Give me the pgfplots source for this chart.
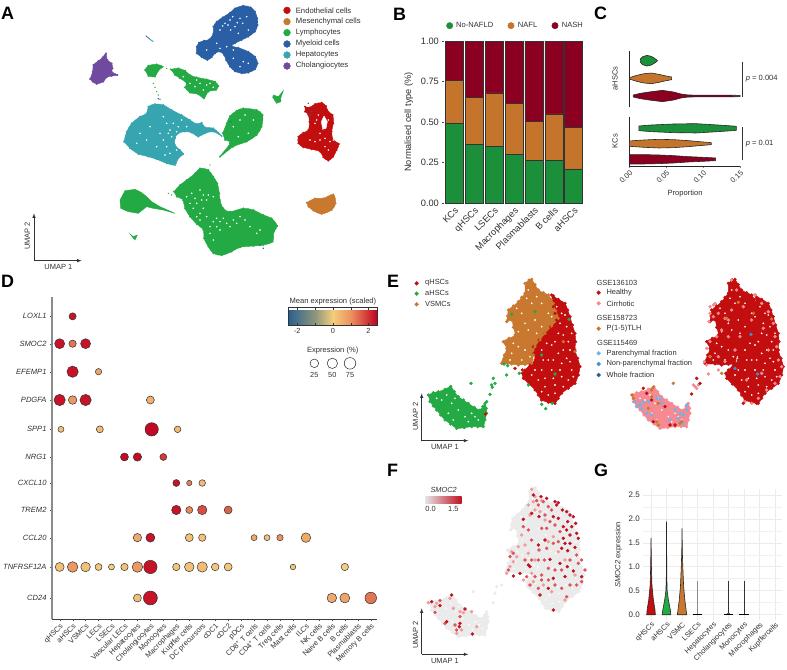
\documentclass[border=0pt]{standalone}
\usepackage{fontspec}
\setmainfont{Liberation Sans}
\usepackage{pgfplots}
\usepackage{pgfplotstable}
\pgfplotsset{compat=1.18}
\newcommand{\fs}[1]{\fontsize{#1}{#1}\selectfont}
\definecolor{txt}{HTML}{303030}
\definecolor{cend}{HTML}{C20E0E}
\definecolor{cmes}{HTML}{C8782F}
\definecolor{clym}{HTML}{24AA45}
\definecolor{cmye}{HTML}{2A5FA5}
\definecolor{chep}{HTML}{36A5B0}
\definecolor{ccho}{HTML}{6F4A9E}
\definecolor{bgreen}{HTML}{1B8F3A}
\definecolor{borange}{HTML}{C5752B}
\definecolor{bred}{HTML}{8B0020}
\definecolor{cpink}{HTML}{F58A92}
\definecolor{clblue}{HTML}{6DB3EE}
\definecolor{cmblue}{HTML}{3F8FD6}
\definecolor{cdblue}{HTML}{1F5F99}
\definecolor{f1}{HTML}{F29A94}
\definecolor{f2}{HTML}{E0505A}
\definecolor{f3}{HTML}{C01020}
\tikzset{umaparrow/.style={draw=black!80, line width=0.6pt, -latex}}
\pgfplotsset{
  zoomaxis/.style n args={4}{
    at={({#1*1bp},{(670-#2)*1bp})}, anchor=north west, scale only axis,
    width=#3 bp, height=#4 bp, xmin=0, xmax=#3*3, ymin=0, ymax=#4*3,
    y dir=reverse, hide axis, clip=false},
  blob/.style={fill=#1, draw=#1, smooth, tension=0.55, mark=*, mark size=0.7, mark options={fill=#1, draw=#1}},
  bblob/.style={fill=#1, draw=#1, smooth, tension=0.5, mark=*, mark size=1.4, mark options={fill=#1, draw=#1}},
  dots/.style={only marks, mark=*, mark size=1.5, mark options={fill=#1, draw=#1}},
  holes/.style={only marks, mark=*, mark size=#1, mark options={fill=white, draw=white, line width=0.1pt}},
  vio/.style={fill=#1, draw=black!85, line width=0.6pt},
  colormap={expr}{
    rgb255(0)=(43,95,142) rgb255(1.5)=(140,150,125) rgb255(2.5)=(244,205,125)
    rgb255(3.5)=(236,145,95) rgb255(5)=(192,0,32)}
}
% D: category index, row position, radius in px, scaled expression
\pgfplotstableread{
x y r v
1 909 3.6 2.3
0 827 5.0 2.3
1 827 3.7 1.3
2 827 5.0 2.3
1 743 5.7 2.3
3 743 3.2 0.7
0 658 5.7 2.3
1 658 4.3 0.9
2 658 5.7 2.3
7 658 4.0 0.5
0.1 570 3.0 0.2
3.1 570 3.5 0.3
7.1 570 6.7 2.4
9.1 570 3.3 0.3
5 487 4.0 2.4
6 487 4.2 2.4
8 487 3.5 1.9
9 409 3.5 2.3
10 409 2.7 1.2
11 409 3.3 0.3
9 328 4.7 2.3
10 328 3.5 1.1
11 328 4.7 1.7
13 328 4.0 1.5
6 245 4.2 0.6
7 245 4.5 2.3
10 245 4.0 0.2
11 245 3.7 0.15
15 245 3.0 0.6
16 245 3.0 0.2
17 245 3.2 1.0
19 245 4.8 0.6
0 157 4.5 0.2
1 157 5.3 0.9
2 157 4.8 0.2
3 157 3.5 0.1
4 157 3.0 0.0
5 157 3.7 0.2
6 157 5.3 0.9
7 157 6.7 2.3
9 157 3.7 0.1
10 157 4.8 0.2
11 157 5.2 0.3
12 157 3.8 0.1
13 157 4.0 0.1
18 157 2.8 0.1
22 157 3.7 0.0
6 64 4.0 0.2
7 64 7.0 2.3
21 64 4.8 0.6
22 64 5.0 0.7
24 64 5.8 1.3
}\bubbles
% E/F outlines, in crop pixels
\pgfplotstableread{
x y
500 75
520 88
540 100
548 120
555 140
562 165
570 190
572 215
570 240
578 265
585 290
580 315
570 340
550 355
530 370
520 385
510 400
490 397
470 390
460 375
450 360
432 342
415 325
412 310
420 300
435 285
450 270
447 250
445 230
462 210
480 190
497 170
515 150
510 130
505 110
}\polyred
\pgfplotstableread{
x y
420 40
432 30
440 28
450 44
460 60
475 68
490 75
498 88
505 100
512 122
520 145
500 168
480 190
465 210
450 230
445 255
440 280
420 283
400 285
380 282
350 280
358 255
365 235
355 215
372 205
390 195
385 172
380 150
365 155
368 138
370 120
385 108
400 95
410 82
420 70
}\polyorange
\pgfplotstableread{
x y
130 375
145 368
160 365
180 358
197 350
208 365
220 380
235 390
250 400
268 412
285 420
293 410
300 400
304 415
305 430
300 450
295 470
278 470
260 470
238 473
215 475
197 462
180 450
167 435
155 420
145 408
135 395
}\polygreen
\pgfplotstableread{
x y
530 130
545 170
520 190
550 215
500 225
470 240
520 250
490 270
545 265
560 300
470 300
500 300
440 315
530 320
510 345
480 350
550 330
490 375
460 330
530 280
515 110
540 135
525 160
560 190
535 195
510 215
485 220
555 240
535 240
505 270
475 270
555 275
525 300
480 325
505 325
565 320
450 300
535 350
510 370
470 365
430 60
440 100
470 100
410 130
450 150
490 130
430 180
470 170
400 230
380 250
420 240
410 270
385 220
500 140
425 85
455 80
395 115
420 160
455 190
400 185
375 270
435 260
170 390
200 400
220 420
240 440
190 430
260 430
280 450
250 455
210 385
155 385
185 375
205 450
270 440
}\speck
\pgfplotstableread{
x y
440 88
450 110
470 122
445 125
430 135
435 165
450 150
465 155
480 180
410 225
420 255
400 260
395 290
385 305
375 320
365 340
380 275
430 280
450 300
505 230
490 245
520 275
540 300
570 345
440 340
415 360
445 365
475 375
500 395
540 420
205 445
225 455
235 458
155 430
130 428
230 510
215 520
275 500
260 455
195 415
150 440
}\flight
\pgfplotstableread{
x y
475 125
455 122
460 135
490 140
500 150
480 165
495 185
510 195
525 215
485 205
470 205
430 210
415 200
440 240
462 270
485 265
505 250
520 245
575 285
590 300
600 330
580 310
555 300
530 330
510 330
490 325
470 345
450 350
425 350
420 300
440 300
460 300
478 300
470 360
490 360
510 375
530 385
555 375
575 375
590 365
460 385
435 375
545 410
375 290
385 280
370 330
215 510
180 490
150 457
165 422
225 470
210 495
}\fmid
\pgfplotstableread{
x y
510 125
520 128
515 135
532 150
545 155
555 165
565 170
505 170
520 175
548 185
572 190
560 200
535 200
545 210
575 220
580 235
555 225
535 235
540 250
555 250
530 265
548 272
570 262
460 255
480 240
462 170
440 160
415 178
468 110
485 115
445 105
495 298
525 310
547 320
565 333
590 350
540 350
505 355
490 385
465 405
385 348
405 340
505 450
430 315
435 320
200 405
140 425
165 437
185 485
225 490
240 447
223 500
262 522
}\fdark
\begin{document}
\begin{tikzpicture}
\path[use as bounding box] (0,0) rectangle (787bp,670bp);
\tikzset{every node/.append style={text=txt}}

% A
\begin{axis}[zoomaxis={0}{0}{390}{270}]
\addplot[blob=cmye] coordinates {(590,140)(597,128)(612,122)(628,118)(640,100)(640,80)(650,65)(668,52)(690,38)(705,25)(730,17)(752,22)(765,35)(772,55)(773,75)(765,95)(745,110)(725,120)(705,130)(695,138)(715,143)(745,155)(765,170)(773,190)(765,208)(745,218)(725,220)(705,214)(690,200)(678,180)(672,165)(660,155)(645,160)(635,172)(622,180)(605,172)(590,160)} -- cycle;
\addplot[blob=ccho] coordinates {(270,237)(278,215)(280,195)(295,183)(308,172)(318,160)(322,180)(335,190)(338,205)(335,215)(352,225)(335,228)(320,232)(310,245)(290,252)(278,245)} -- cycle;
\addplot[blob=clym] coordinates {(435,210)(445,197)(470,193)(488,200)(475,212)(465,230)(445,228)} -- cycle;
\addplot[blob=clym] coordinates {(512,208)(535,205)(555,212)(570,225)(590,232)(620,238)(645,245)(655,258)(648,270)(625,275)(612,295)(595,283)(570,278)(555,262)(560,250)(540,235)(525,225)} -- cycle;
\addplot[fill=clym, draw=clym] coordinates {(820,285)(835,290)(850,272)(842,295)(843,305)(830,310)(818,292)} -- cycle;
\addplot[blob=cend] coordinates {(915,320)(930,322)(945,312)(965,308)(978,318)(985,335)(998,345)(1000,370)(995,395)(1000,420)(1017,432)(1010,450)(1000,470)(985,482)(970,472)(960,455)(935,448)(910,442)(895,430)(895,410)(910,398)(925,390)(928,365)(925,345)(915,335)} -- cycle;
\addplot[blob=cmes] coordinates {(920,608)(945,595)(970,595)(1000,583)(1007,610)(995,630)(965,642)(940,632)(925,620)} -- cycle;
\addplot[blob=chep] coordinates {(372,425)(380,395)(395,370)(420,350)(440,340)(445,320)(465,312)(490,315)(515,330)(545,345)(570,360)(590,372)(605,368)(615,382)(640,385)(665,408)(640,395)(615,400)(595,410)(575,398)(555,395)(535,400)(525,415)(525,435)(540,450)(550,462)(535,475)(525,495)(500,490)(470,478)(445,470)(415,462)(390,445)} -- cycle;
\addplot[blob=clym] coordinates {(668,400)(680,370)(690,348)(710,332)(730,325)(770,330)(788,345)(785,380)(770,405)(740,425)(700,440)(660,470)(690,430)(675,420)} -- cycle;
\addplot[blob=clym] coordinates {(522,575)(540,555)(560,540)(585,520)(600,505)(625,510)(640,530)(652,550)(658,580)(660,600)(670,625)(690,635)(730,625)(760,630)(790,645)(815,655)(832,678)(822,695)(818,725)(790,735)(760,738)(720,742)(695,755)(665,766)(640,760)(625,740)(612,715)(610,690)(590,672)(570,650)(555,625)(548,600)(530,590)} -- cycle;
\addplot[fill=clym, draw=clym] coordinates {(360,600)(375,572)(405,568)(425,578)(440,590)(455,605)(480,620)(525,640)(490,630)(460,625)(440,620)(415,640)(385,635)(362,625)} -- cycle;
\addplot[fill=clym, draw=clym] coordinates {(390,702)(400,710)(412,705)(405,720)(398,712)} -- cycle;
\addplot[cmye, line width=0.7pt] coordinates {(437,107)(450,118)};
\addplot[chep, line width=0.9pt] coordinates {(450,118)(460,125)};
\addplot[only marks, mark=*, mark size=0.4, mark options={fill=clym, draw=clym}] coordinates {(460,250)(465,262)(470,275)(475,285)(480,298)(488,200)(500,205)(505,580)(515,585)(630,495)};
\addplot[only marks, mark=*, mark size=0.5, mark options={fill=cmye, draw=cmye}] coordinates {(475,296)(780,735)(790,745)(925,310)(935,335)(930,345)(692,365)};
\addplot[fill=white, draw=white] coordinates {(972,348)(982,365)(978,385)(968,388)(964,365)} -- cycle;
\addplot[holes=0.7] coordinates {(675,70)(690,60)(705,80)(720,55)(660,90)(740,50)(680,140)(700,175)(730,185)(650,130)(620,150)(715,100)(745,90)(684,75)(698,50)(712,68)(668,78)(728,70)(692,90)(660,145)(700,150)(720,200)(745,190)
 (985,360)(990,425)(975,440)(960,400)(945,370)(1000,420)(930,420)(955,345)(950,360)(975,415)(945,425)(985,450)(960,420)
 (610,585)(620,600)(640,590)(600,640)(620,650)(640,665)(660,665)(680,670)(700,660)(720,650)(590,610)(570,610)(560,590)(650,680)(750,680)(780,690)(630,700)(600,570)
 (585,595)(605,600)(625,585)(580,625)(610,625)(590,650)(650,655)(670,655)(690,680)(710,670)(660,690)(735,660)(600,660)(630,680)(575,580)(545,600)(770,700)(640,720)
 (590,240)(600,250)(620,255)(570,250)(610,270)(630,250)(550,230)(585,260)(640,262)
 (520,370)(535,380)(510,390)(545,360)(560,380)(500,440)(510,460)(480,400)(450,380)(420,400)(530,450)(490,350)(500,370)(515,410)(490,420)(470,440)(505,400)(530,395)(440,420)(410,430)(495,465)
 (720,360)(745,400)(700,380)(735,345)(760,360)(715,410)};
\addplot[only marks, mark=*, mark size=3.4, mark options={fill=cend, draw=cend}] coordinates {(861,31)};
\addplot[only marks, mark=*, mark size=3.4, mark options={fill=cmes, draw=cmes}] coordinates {(861,65)};
\addplot[only marks, mark=*, mark size=3.4, mark options={fill=clym, draw=clym}] coordinates {(861,98)};
\addplot[only marks, mark=*, mark size=3.4, mark options={fill=cmye, draw=cmye}] coordinates {(861,132)};
\addplot[only marks, mark=*, mark size=3.4, mark options={fill=chep, draw=chep}] coordinates {(861,165)};
\addplot[only marks, mark=*, mark size=3.4, mark options={fill=ccho, draw=ccho}] coordinates {(861,198)};
\tikzset{lt/.style={anchor=west, inner sep=0, font=\fs{7.7}}}
\node[lt] at (axis cs:887,31) {Endothelial cells};
\node[lt] at (axis cs:887,65) {Mesenchymal cells};
\node[lt] at (axis cs:887,98) {Lymphocytes};
\node[lt] at (axis cs:887,132) {Myeloid cells};
\node[lt] at (axis cs:887,165) {Hepatocytes};
\node[lt] at (axis cs:887,198) {Cholangiocytes};
\draw[umaparrow] (axis cs:102,782) -- (axis cs:102,640);
\draw[umaparrow] (axis cs:102,782) -- (axis cs:245,782);
\node[font=\fs{7.5}] at (axis cs:175,800) {UMAP 1};
\node[font=\fs{7.5}, rotate=90] at (axis cs:82,708) {UMAP 2};
\end{axis}

% B
\begin{axis}[
  at={(444.4bp,{(670-41)*1bp})}, anchor=north west, scale only axis,
  width=139.3bp, height=162bp, ybar stacked, bar width=18bp,
  xmin=-0.5, xmax=6.5, ymin=0, ymax=1, clip=false,
  xtick={0,...,6}, xticklabels={KCs,qHSCs,LSECs,Macrophages,Plasmablasts,B cells,aHSCs},
  ytick={0,0.25,0.5,0.75,1},
  yticklabel style={/pgf/number format/.cd, fixed, fixed zerofill, precision=2, assume math mode=true},
  tick label style={font=\fs{9.3}, text=txt}, tick align=outside, ytick pos=left,
  xticklabel style={rotate=45, anchor=north east, inner sep=1pt},
  major tick length=2pt, xtick style={draw=none}, ytick style={draw=black!70},
  axis line style={draw=none},
  ylabel={Normalised cell type (\%)}, ylabel style={font=\fs{9.2}, text=txt, yshift=1pt},
]
\addplot[fill=bgreen, draw=black!80, line width=0.6pt] coordinates {(0,.49)(1,.36)(2,.35)(3,.30)(4,.265)(5,.265)(6,.21)};
\addplot[fill=borange, draw=black!80, line width=0.6pt] coordinates {(0,.265)(1,.29)(2,.33)(3,.315)(4,.24)(5,.285)(6,.255)};
\addplot[fill=bred, draw=black!80, line width=0.6pt] coordinates {(0,.245)(1,.35)(2,.32)(3,.385)(4,.495)(5,.45)(6,.535)};
\end{axis}
\begin{axis}[zoomaxis={385}{0}{402}{270}]
\addplot[only marks, mark=*, mark size=3.2, mark options={fill=bgreen, draw=bgreen}] coordinates {(194,77)};
\addplot[only marks, mark=*, mark size=3.2, mark options={fill=borange, draw=borange}] coordinates {(378,77)};
\addplot[only marks, mark=*, mark size=3.2, mark options={fill=bred, draw=bred}] coordinates {(510,77)};
\node[anchor=west, inner sep=0, font=\fs{7.6}] at (axis cs:213,76) {No-NAFLD};
\node[anchor=west, inner sep=0, font=\fs{7.6}] at (axis cs:398,76) {NAFL};
\node[anchor=west, inner sep=0, font=\fs{7.6}] at (axis cs:530,76) {NASH};
\addplot[black!80, line width=0.6pt] coordinates {(1073,185)(1073,290)};
\addplot[black!80, line width=0.6pt] coordinates {(1073,382)(1073,480)};
\node[anchor=west, inner sep=0, font=\fs{7.6}] at (axis cs:1082,236) {\textit{p} = 0.004};
\node[anchor=west, inner sep=0, font=\fs{7.6}] at (axis cs:1082,430) {\textit{p} = 0.01};
\node[font=\fs{7.6}, rotate=90] at (axis cs:690,235) {aHSCs};
\node[font=\fs{7.6}, rotate=90] at (axis cs:690,424) {KCs};
\node[font=\fs{7.6}] at (axis cs:900,582) {Proportion};
\end{axis}

% C
\begin{axis}[
  at={(629.3bp,{(670-50.7)*1bp})}, anchor=north west, scale only axis,
  width=110.7bp, height=115.6bp, xmin=0, xmax=0.15, ymin=0, ymax=347, clip=false,
  axis x line=bottom, axis y line=none, x axis line style={-, draw=black!85},
  xtick={0,0.05,0.1,0.15},
  xticklabel style={/pgf/number format/.cd, fixed, fixed zerofill, precision=2, assume math mode=true},
  tick label style={font=\fs{7.5}, text=txt, rotate=45, anchor=north east, inner sep=1pt},
  major tick length=2pt, tick align=outside,
]
\addplot[black!85, line width=0.6pt] coordinates {(0,179)(0,347)};
\addplot[black!85, line width=0.6pt] coordinates {(0,0)(0,149)};
\addplot[vio=bgreen] coordinates {(.015,322)(.018,329)(.024,333)(.03,330)(.035,323)(.038,318)(.038,316)(.035,311)(.03,304)(.024,301)(.018,305)(.015,312)} -- cycle;
\addplot[vio=borange] coordinates {(0,266)(.01,273)(.02,278)(.03,280)(.04,276)(.05,271)(.0574,268)(.0574,260)(.05,257)(.04,252)(.03,248)(.02,250)(.01,255)(0,262)} -- cycle;
\addplot[vio=bred] coordinates {(.0054,214)(.015,219)(.03,224)(.045,228)(.06,223)(.07,217)(.08,214)(.1,213.5)(.13,213.5)(.15,213)(.15,209)(.13,208.5)(.1,208.5)(.08,208)(.07,205)(.06,199)(.045,194)(.03,198)(.015,203)(.0054,208)} -- cycle;
\addplot[vio=bgreen] coordinates {(.013,121)(.03,124)(.06,127)(.09,128)(.12,124)(.14,121)(.145,120)(.145,108)(.14,107)(.12,104)(.09,100)(.06,101)(.03,104)(.013,107)} -- cycle;
\addplot[vio=borange] coordinates {(0,76)(.02,79)(.04,81)(.06,80)(.08,77)(.1,73)(.111,71)(.111,65)(.1,63)(.08,59)(.06,56)(.04,55)(.02,57)(0,60)} -- cycle;
\addplot[vio=bred] coordinates {(0,35)(.02,35)(.04,34)(.06,32)(.08,29)(.1,27)(.117,25)(.117,17)(.1,15)(.08,13)(.06,10)(.04,8)(.02,7)(0,7)} -- cycle;
\end{axis}

% D
\begin{axis}[
  at={(52bp,{(670-296.7)*1bp})}, anchor=north west, scale only axis,
  width=324.7bp, height=322.6bp, xmin=-0.59, xmax=24.46, ymin=0, ymax=968, clip=false,
  axis lines=left, axis line style={-}, 
  x axis line style={draw=black!75, line width=0.5pt},
  y axis line style={draw=black!45, line width=1.1pt},
  xtick={0,...,24},
  xticklabels={qHSCs,aHSCs,VSMCs,LECs,LSECs,Vascular LECs,Hepatocytes,Cholangiocytes,Monocytes,Macrophages,Kupffer cells,DC precursors,cDC1,cDC2,pDCs,CD8\textsuperscript{+} T cells,CD4\textsuperscript{+} T cells,Treg cells,Mast cells,ILCs,NK cells,Naive B cells,B cells,Plasmablasts,Memory B cells},
  ytick={909,827,743,658,570,487,409,328,245,157,64},
  yticklabels={LOXL1,SMOC2,EFEMP1,PDGFA,SPP1,NRG1,CXCL10,TREM2,CCL20,TNFRSF12A,CD24},
  yticklabel style={font=\fs{7.6}\itshape, text=txt},
  xticklabel style={font=\fs{7.4}, text=txt, rotate=45, anchor=north east, inner sep=1pt},
  major tick length=2pt, tick align=outside, tick style={draw=black!70},
  colormap name=expr, point meta min=-2.5, point meta max=2.5,
  colorbar horizontal,
  colorbar style={
    at={(0.728,0.967)}, anchor=north west, width=89bp, height=17.7bp,
    xtick={-2,-1,0,1,2}, xticklabels={-2,,0,,2},
    xticklabel pos=bottom, tick align=inside, major tick length=2.5pt,
    tick style={draw=black!80}, axis line style={draw=black!80},
    tick label style={font=\fs{7.4}, text=txt},
    title={Mean expression (scaled)},
    title style={font=\fs{7.6}, text=txt, yshift=-7pt},
    /pgf/number format/assume math mode=true,
  },
]
\addplot[scatter, only marks, mark=*, point meta=explicit,
  visualization depends on={\thisrow{r} \as \perpointmarksize},
  scatter/use mapped color={draw=black!80, fill=mapped color},
  scatter/@pre marker code/.append style={/tikz/mark size=\perpointmarksize},
  line width=0.5pt]
  table[x=x, y=y, meta=v] {\bubbles};
\end{axis}
\begin{axis}[zoomaxis={0}{270}{390}{400}]
\addplot[only marks, mark=*, mark size=4.3, mark options={fill=white, draw=black!85, line width=0.5pt}] coordinates {(943,280)};
\addplot[only marks, mark=*, mark size=5.2, mark options={fill=white, draw=black!85, line width=0.5pt}] coordinates {(997,280)};
\addplot[only marks, mark=*, mark size=5.8, mark options={fill=white, draw=black!85, line width=0.5pt}] coordinates {(1050,280)};
\node[font=\fs{7.6}] at (axis cs:998,241) {Expression (\%)};
\node[font=\fs{7.4}] at (axis cs:943,315) {25};
\node[font=\fs{7.4}] at (axis cs:997,315) {50};
\node[font=\fs{7.4}] at (axis cs:1050,315) {75};
\end{axis}

% E
\begin{axis}[zoomaxis={385}{270}{402}{200}]
\addplot[bblob=cend] table {\polyred} -- cycle;
\addplot[bblob=cmes] table {\polyorange} -- cycle;
\addplot[bblob=clym] table {\polygreen} -- cycle;
\addplot[holes=0.8] table {\speck};
\addplot[dots=cend] coordinates {(505,78)(450,340)(412,300)(302,432)(390,295)};
\addplot[dots=cmes] coordinates {(352,280)(570,245)(535,215)};
\addplot[dots=clym] coordinates {(380,133)(450,125)(552,148)(470,255)(510,312)(357,282)(368,287)(365,315)(403,310)(430,345)(470,403)(502,400)(482,416)(258,340)(325,325)(330,340)(320,345)(315,373)(305,395)(322,352)(197,350)};

\addplot[bblob=cend] table[x expr=\thisrow{x}+610] {\polyred} -- cycle;
\addplot[bblob=cend] table[x expr=\thisrow{x}+610] {\polyorange} -- cycle;
\addplot[bblob=cpink] table[x expr=\thisrow{x}+610] {\polygreen} -- cycle;
\addplot[holes=0.8] table[x expr=\thisrow{x}+610] {\speck};
\addplot[dots=cpink] coordinates {(975,110)(985,105)(990,100)(975,130)(972,155)(985,140)(1000,130)(1020,145)(1030,150)(1040,120)(1065,200)(1010,180)(995,200)(975,215)(965,235)(958,275)(965,285)(975,260)(1000,260)(1020,275)(1000,300)(970,312)(1180,270)(1190,290)(1185,320)(1170,340)(1145,360)(1120,385)(1100,400)(1080,395)(1175,230)(1170,200)(1165,160)(1150,125)(1130,100)(1110,75)(1075,110)(1100,150)(1135,175)(1150,240)(1050,240)(1085,330)(1130,310)(925,345)(930,350)(940,345)(935,355)(1040,30)(1055,60)(1030,200)};
\addplot[dots=cend] coordinates {(775,355)(785,370)(800,390)(840,410)(855,465)(870,465)(805,455)(920,372)(935,325)(945,340)(1115,400)(1075,400)};
\addplot[dots=clblue] coordinates {(750,395)(755,410)(770,415)(785,430)(800,435)(815,385)(825,385)(830,400)(905,405)(905,420)(895,435)(885,430)(880,445)(895,460)(870,420)(855,450)(775,395)(790,395)(765,405)};
\addplot[dots=cmes] coordinates {(745,385)(742,375)(805,352)(800,360)(790,415)(800,380)(820,400)(865,340)(890,455)(885,460)(820,465)(815,455)(1060,97)(1105,130)(1160,147)(1025,145)(975,260)(1010,310)};
\addplot[dots=cmblue] coordinates {(1098,193)(1050,295)(1118,312)};
\addplot[only marks, mark=*, mark size=1.9, mark options={fill=cend, draw=cend}] coordinates {(95,40)(641,68)};
\addplot[only marks, mark=*, mark size=1.9, mark options={fill=clym, draw=clym}] coordinates {(95,71)};
\addplot[only marks, mark=*, mark size=1.9, mark options={fill=cmes, draw=cmes}] coordinates {(95,103)(641,176)};
\addplot[only marks, mark=*, mark size=1.9, mark options={fill=cpink, draw=cpink}] coordinates {(641,100)};
\addplot[only marks, mark=*, mark size=1.9, mark options={fill=clblue, draw=clblue}] coordinates {(641,250)};
\addplot[only marks, mark=*, mark size=1.9, mark options={fill=cmblue, draw=cmblue}] coordinates {(641,282)};
\addplot[only marks, mark=*, mark size=1.9, mark options={fill=cdblue, draw=cdblue}] coordinates {(641,315)};
\tikzset{lt/.style={anchor=west, inner sep=0, font=\fs{7.5}}}
\node[lt] at (axis cs:120,38) {qHSCs};
\node[lt] at (axis cs:120,70) {aHSCs};
\node[lt] at (axis cs:120,103) {VSMCs};
\node[lt] at (axis cs:634,38) {GSE136103};
\node[lt] at (axis cs:664,68) {Healthy};
\node[lt] at (axis cs:664,100) {Cirrhotic};
\node[lt] at (axis cs:634,145) {GSE158723};
\node[lt] at (axis cs:664,176) {P(1-5)TLH};
\node[lt] at (axis cs:636,218) {GSE115469};
\node[lt] at (axis cs:664,250) {Parenchymal fraction};
\node[lt] at (axis cs:664,282) {Non-parenchymal fraction};
\node[lt] at (axis cs:664,315) {Whole fraction};
\draw[umaparrow] (axis cs:110,512) -- (axis cs:110,370);
\draw[umaparrow] (axis cs:110,512) -- (axis cs:250,512);
\node[font=\fs{7.5}] at (axis cs:180,530) {UMAP 1};
\node[font=\fs{7.5}, rotate=90] at (axis cs:92,440) {UMAP 2};
\end{axis}

% F
\begin{axis}[zoomaxis={385}{460}{402}{210}]
\addplot[bblob=black!8] table[x expr=\thisrow{x}+12, y expr=\thisrow{y}+55] {\polyred} -- cycle;
\addplot[bblob=black!8] table[x expr=\thisrow{x}+12, y expr=\thisrow{y}+55] {\polyorange} -- cycle;
\addplot[bblob=black!8] table[x expr=\thisrow{x}+5, y expr=\thisrow{y}+55] {\polygreen} -- cycle;
\addplot[dots=black!8] coordinates {(265,395)(335,380)(330,400)(325,428)(350,375)};
\addplot[holes=0.8] table[x expr=\thisrow{x}+12, y expr=\thisrow{y}+55] {\speck};
\addplot[dots=f1] table {\flight};
\addplot[dots=f2] table {\fmid};
\addplot[dots=f3] table {\fdark};
\shade[left color=black!10, middle color=f2!80, right color=f3] (axis cs:120,108) rectangle (axis cs:230,130);
\node[font=\fs{7.4}\itshape] at (axis cs:176,91) {SMOC2};
\node[font=\fs{7.5}] at (axis cs:137,148) {0.0};
\node[font=\fs{7.5}] at (axis cs:205,148) {1.5};
\draw[umaparrow] (axis cs:110,583) -- (axis cs:110,445);
\draw[umaparrow] (axis cs:110,583) -- (axis cs:250,583);
\node[font=\fs{7.5}] at (axis cs:180,603) {UMAP 1};
\node[font=\fs{7.5}, rotate=90] at (axis cs:92,525) {UMAP 2};
\end{axis}

% G
\begin{axis}[
  at={(643.3bp,{(670-489.3)*1bp})}, anchor=north west, scale only axis,
  width=139bp, height=130.7bp, xmin=-0.5, xmax=8.47, ymin=-0.12, ymax=2.62, clip=false,
  axis line style={draw=none}, tick style={draw=none},
  grid=both, major grid style={draw=black!8, line width=0.4pt},
  minor grid style={draw=black!6, line width=0.3pt},
  minor y tick num=1,
  xtick={0,...,8}, xticklabels={qHSCs,aHSCs,VSMC,LSECs,Hepatocytes,Cholangiocytes,Monocytes,Macrophages,Kupffercells},
  ytick={0,0.5,1,1.5,2,2.5},
  yticklabel style={font=\fs{8}, text=txt, /pgf/number format/.cd, fixed, fixed zerofill, precision=1, assume math mode=true},
  xticklabel style={font=\fs{7.4}, text=txt, rotate=45, anchor=north east, inner sep=1pt},
  ylabel={\textit{SMOC2} expression}, ylabel style={font=\fs{7.6}, text=txt, yshift=0pt},
]
\addplot[vio=cend] coordinates {(-.28,-.01)(-.25,.1)(-.15,.3)(-.06,.6)(-.025,1)(0,1.6)(.025,1)(.06,.6)(.15,.3)(.25,.1)(.28,-.01)} -- cycle;
\addplot[vio=clym] coordinates {(.72,-.01)(.76,.1)(.88,.3)(.96,.5)(.985,.8)(1,1.95)(1.015,.8)(1.04,.5)(1.12,.3)(1.24,.1)(1.28,-.01)} -- cycle;
\addplot[vio=cmes] coordinates {(1.7,-.01)(1.74,.1)(1.82,.3)(1.9,.6)(1.95,1)(1.98,1.3)(2,1.8)(2.02,1.3)(2.05,1)(2.1,.6)(2.18,.3)(2.26,.1)(2.3,-.01)} -- cycle;
\addplot[black!45, line width=0.8pt] coordinates {(3,0)(3,.7)};
\addplot[black, line width=0.8pt] coordinates {(2.7,0)(3.3,0)};
\addplot[black!80, line width=0.6pt] coordinates {(5,0)(5,.7)};
\addplot[black, line width=0.8pt] coordinates {(4.72,0)(5.28,0)};
\addplot[ccho, line width=0.8pt] coordinates {(4.88,.01)(5.12,.01)};
\addplot[black!80, line width=0.6pt] coordinates {(6,0)(6,.7)};
\addplot[black, line width=0.8pt] coordinates {(5.7,0)(6.3,0)};
\end{axis}

% panel letters
\foreach \l/\x/\y in {A/1/20,B/393/20.7,C/594/20,D/1/287,E/387/287,F/387/476,G/594/476}{
  \node[anchor=base west, inner sep=0, font=\fs{18}\bfseries, text=black] at ({\x*1bp},{(670-\y)*1bp}) {\l};}
\end{tikzpicture}
\end{document}
